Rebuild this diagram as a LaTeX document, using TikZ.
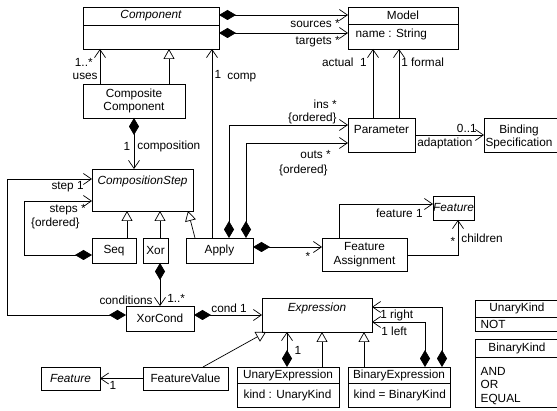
\documentclass[tikz,border=0pt]{standalone}
\usepackage{fontspec}
\setmainfont{Liberation Sans}
\usetikzlibrary{positioning,arrows.meta}

\begin{document}
\begin{tikzpicture}[
x=1pt, y=-1pt,
font=\fontsize{11.8}{13.5}\selectfont,
line width=0.7pt,
cls/.style={draw, rectangle, inner sep=0pt, outer sep=0pt, align=center},
lbl/.style={inner sep=0pt},
assoc/.style={-{Straight Barb[length=8pt,width=11pt]}},
compo/.style={{Diamond[length=17pt,width=10pt]}-{Straight Barb[length=8pt,width=11pt]}},
inherit/.style={-{Triangle[open,length=10pt,width=11pt]}}]
\useasboundingbox (0,0) rectangle (557,411);
\fill[white] (0,0) rectangle (557,411);
\clip (0,0) rectangle (557,411);

% classes
\node[cls, minimum width=136pt, minimum height=42pt] (component) at (151,28) {};
\node at (151,16) {\itshape Component};
\draw (component.west |- 0,25) -- (component.east |- 0,25);
\node[cls, minimum width=110pt, minimum height=42pt] (model) at (403,28) {};
\node at (403,15.5) {Model};
\node[anchor=west] at (352,34) {name : String};
\draw (model.west |- 0,24) -- (model.east |- 0,24);
\node[cls, minimum width=102pt, minimum height=34pt] (composite) at (134,101) {Composite\\Component};
\node[cls, minimum width=101pt, minimum height=42pt] (cstep) at (142.5,190) {};
\node at (142.5,181) {\itshape CompositionStep};
\node[cls, minimum width=44pt, minimum height=25pt] (seq) at (114,250.5) {Seq};
\node[cls, minimum width=25pt, minimum height=25pt] (xor) at (155.5,250.5) {Xor};
\node[cls, minimum width=67pt, minimum height=25pt] (apply) at (219.5,250.5) {Apply};
\node[cls, minimum width=67pt, minimum height=34pt] (param) at (381.5,135) {};
\node at (381.5,130) {Parameter};
\node[cls, minimum width=78pt, minimum height=34pt] (binding) at (523,135) {};
\node[align=center] at (519,137) {Binding\\Specification};
\node[cls, minimum width=41pt, minimum height=24pt] (featureA) at (453.5,208) {\itshape Feature};
\node[cls, minimum width=85pt, minimum height=33pt] (fassign) at (364.5,254.5) {Feature\\Assignment};
\node[cls, minimum width=68pt, minimum height=25pt] (xorcond) at (160,318.5) {XorCond};
\node[cls, minimum width=110pt, minimum height=34pt] (expr) at (317,315) {};
\node at (317,308) {\itshape Expression};
\node[cls, minimum width=59pt, minimum height=23pt] (featureB) at (70.5,378.5) {\itshape Feature};
\node[cls, minimum width=85pt, minimum height=23pt] (fvalue) at (185.5,378.5) {FeatureValue};
\node[cls, minimum width=102pt, minimum height=40pt] (unexpr) at (288,387) {};
\node at (288,375) {UnaryExpression};
\node[anchor=west] at (240,395) {kind : UnaryKind};
\draw (unexpr.west |- 0,383) -- (unexpr.east |- 0,383);
\node[cls, minimum width=102pt, minimum height=40pt] (binexpr) at (399,387) {};
\node at (399,375) {BinaryExpression};
\node[anchor=west] at (350,395) {kind = BinaryKind};
\draw (binexpr.west |- 0,383) -- (binexpr.east |- 0,383);
\node[cls, minimum width=87pt, minimum height=31pt] (unkind) at (518.5,315.5) {};
\node at (517,308) {UnaryKind};
\node[anchor=west] at (477,324.5) {NOT};
\draw (unkind.west |- 0,317) -- (unkind.east |- 0,317);
\node[cls, minimum width=87pt, minimum height=68pt] (binkind) at (518.5,373) {};
\node at (517,348) {BinaryKind};
\node[anchor=west, align=left] at (477,386) {AND\\OR\\EQUAL};
\draw (binkind.west |- 0,357) -- (binkind.east |- 0,357);

% associations
\draw[compo] (component.east |- 0,15) -- (model.west |- 0,15);
\draw[compo] (component.east |- 0,33) -- (model.west |- 0,33);
\node[lbl, anchor=east] at (340,24) {sources *};
\node[lbl, anchor=east] at (340,42) {targets *};
\draw[assoc] (composite.north -| 100,0) -- (component.south -| 100,0);
\node[lbl, anchor=east] at (93,62) {1..*};
\node[lbl, anchor=east] at (98,76) {uses};
\draw[inherit] (composite.north -| 169,0) -- (component.south -| 169,0);
\draw[assoc] (apply.north -| 212,0) -- (component.south -| 212,0);
\node[lbl] at (218,74) {1};
\node[lbl, anchor=west] at (227,78) {comp};
\draw[compo] (composite.south) -- (cstep.north -| composite.south);
\node[lbl] at (127,146) {1};
\node[lbl, anchor=west] at (137,146) {composition};
\draw[inherit] (seq.north -| 127,0) -- (cstep.south -| 127,0);
\draw[inherit] (xor.north -| 160,0) -- (cstep.south -| 160,0);
\draw[inherit] (apply.north -| 195,0) -- (cstep.south -| 188,0);
\draw[compo] (xorcond.west |- 0,315) -- (7,315) |- (cstep.west |- 0,179);
\node[lbl, anchor=east] at (84,187) {step 1};
\draw[compo] (seq.west |- 0,255) -- (24,255) |- (cstep.west |- 0,201);
\node[lbl, anchor=east] at (86,210) {steps *};
\node[lbl, anchor=east] at (80,223) {\{ordered\}};
\draw[compo] (xor.south -| 160,0) -- (xorcond.north -| 160,0);
\node[lbl, anchor=east] at (153,300) {conditions};
\node[lbl, anchor=west] at (167,298) {1..*};
\draw[compo] (xorcond.east |- 0,315) -- (expr.west |- 0,315);
\node[lbl, anchor=west] at (211,308) {cond 1};
\draw[assoc] (param.north -| 373,0) -- (model.south -| 373,0);
\draw[assoc] (param.north -| 399,0) -- (model.south -| 399,0);
\node[lbl, anchor=east] at (367,62) {actual\ \ 1};
\node[lbl, anchor=west] at (401,62) {1 formal};
\draw[compo] (apply.north -| 229,0) |- (param.west |- 0,125);
\node[lbl, anchor=east] at (337,104) {ins *};
\node[lbl, anchor=east] at (337,118) {\{ordered\}};
\draw[compo] (apply.north -| 246,0) |- (param.west |- 0,143);
\node[lbl, anchor=east] at (331,155) {outs *};
\node[lbl, anchor=east] at (328,170) {\{ordered\}};
\draw[assoc] (param.east |- 0,135) -- (binding.west |- 0,135);
\node[lbl, anchor=east] at (477,128) {0..1};
\node[lbl, anchor=west] at (417,143) {adaptation};
\draw[compo] (apply.east |- 0,247) -- (fassign.west |- 0,247);
\node[lbl] at (308,256) {*};
\draw[assoc] (fassign.north -| 339,0) |- (featureA.west |- 0,204);
\node[lbl, anchor=east] at (423,213) {feature 1};
\draw[assoc] (fassign.east |- 0,255) -| (featureA.south -| 458,0);
\node[lbl] at (453,241) {*};
\node[lbl, anchor=west] at (461,238) {children};
\draw[inherit] (fvalue.north -| 203,0) -- (expr.south -| 266,0);
\draw[assoc] (fvalue.west) -- (featureB.east);
\node[lbl] at (113,385) {1};
\draw[compo] (unexpr.north -| 287,0) -- (expr.south -| 287,0);
\node[lbl] at (298,350) {1};
\draw[inherit] (unexpr.north -| 322,0) -- (expr.south -| 322,0);
\draw[inherit] (binexpr.north -| 364,0) -- (expr.south -| 364,0);
\draw[compo] (binexpr.north -| 442,0) |- (expr.east |- 0,307);
\node[lbl, anchor=west] at (380,315) {1 right};
\draw[compo] (binexpr.north -| 425,0) |- (expr.east |- 0,322);
\node[lbl, anchor=west] at (381,331) {1 left};
\end{tikzpicture}
\end{document}
